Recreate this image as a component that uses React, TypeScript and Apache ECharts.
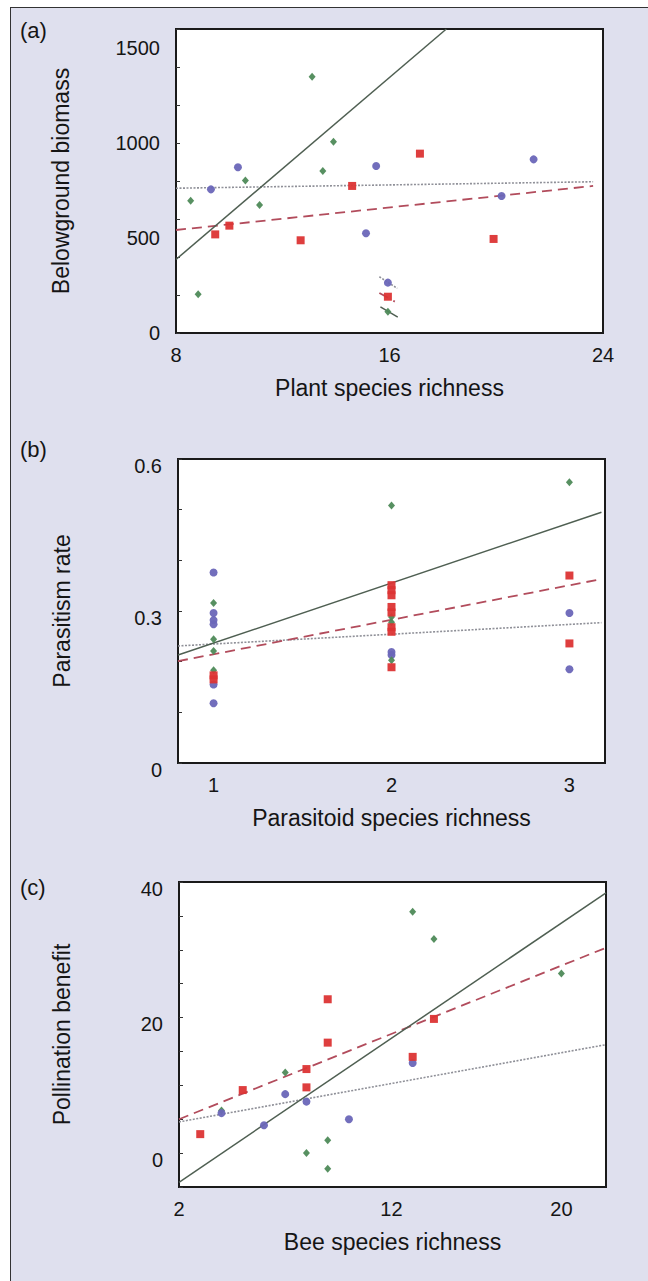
import React, { useEffect, useRef } from "react";
import * as echarts from "echarts";

// ---------- Panel (a): Belowground biomass vs Plant species richness ----------
const aGreen = [[13.1, 1349], [13.9, 1007], [13.5, 853], [10.6, 802], [8.55, 696], [11.13, 674], [8.83, 204]];
const aBlue = [[10.32, 872], [15.5, 879], [9.31, 756], [15.12, 525], [21.4, 914], [20.2, 721]];
const aRed = [[17.14, 944], [14.6, 774], [10.0, 565], [9.47, 519], [12.67, 488], [19.9, 495]];
const aSolid = [[8, 387], [18.13, 1600]];
const aDashed = [[8, 542], [23.63, 774]];
const aDotted = [[8, 762], [23.63, 796]];
const aKeyBlue = [[15.94, 265]];
const aKeyRed = [[15.94, 191]];
const aKeyGreen = [[15.94, 112]];
const aKeyBlueLine = [[15.62, 296], [16.29, 235]];
const aKeyRedLine = [[15.62, 211], [16.2, 165]];
const aKeyGreenLine = [[15.66, 137], [16.31, 84]];
const aXLabels = [8, 16, 24];
const aYLabels = [0, 500, 1000, 1500];

// ---------- Panel (b): Parasitism rate vs Parasitoid species richness ----------
const bGreen = [[1, 0.316], [1, 0.244], [1, 0.221], [1, 0.183], [2, 0.508], [2, 0.288], [2, 0.278], [2, 0.203], [3, 0.554]];
const bBlue = [[1, 0.376], [1, 0.296], [1, 0.282], [1, 0.274], [1, 0.155], [1, 0.118], [2, 0.219], [2, 0.213], [3, 0.296], [3, 0.185]];
const bRed = [[1, 0.173], [1, 0.165], [2, 0.351], [2, 0.341], [2, 0.331], [2, 0.308], [2, 0.297], [2, 0.268], [2, 0.259], [2, 0.189], [3, 0.37], [3, 0.236]];
const bSolid = [[0.8, 0.213], [3.18, 0.495]];
const bDashed = [[0.8, 0.201], [3.18, 0.363]];
const bDotted = [[0.8, 0.231], [3.18, 0.277]];
const bXLabels = [1, 2, 3];
const bYLabels = [0, 0.3, 0.6];

// ---------- Panel (c): Pollination benefit vs Bee species richness ----------
const cGreen = [[13, 35.6], [14, 31.6], [20, 26.5], [7, 11.9], [4, 6.3], [9, 1.9], [8, 0], [9, -2.3]];
const cBlue = [[13, 13.3], [7, 8.7], [8, 7.6], [4, 5.9], [6, 4.1], [10, 5.0]];
const cRed = [[9, 22.7], [9, 16.3], [14, 19.8], [13, 14.2], [8, 12.4], [5, 9.3], [8, 9.7], [3, 2.8]];
const cSolid = [[2, -4.3], [22.1, 38.4]];
const cDashed = [[2, 5.0], [22.1, 30.3]];
const cDotted = [[2, 4.6], [22.1, 16.0]];
const cXLabels = [2, 12, 20];
const cYLabels = [0, 20, 40];

const FONT = '"Liberation Sans", Arial, Helvetica, sans-serif';
const INK = "#151515";
const GREEN = "#4e8a58";
const BLUE = "#6a66b8";
const RED = "#dc3434";
const SOLID = "#4f5f52";
const DASH = "#b24c5c";
const DOT = "#8f9098";

function fmt(shown: number[]) {
  return (v: number) => {
    for (const s of shown) if (Math.abs(v - s) < 1e-6) return String(s);
    return "";
  };
}

function mkGrid(left: number, top: number, width: number, height: number) {
  return {
    left, top, width, height, show: true, backgroundColor: "#ffffff",
    borderColor: "#1a1a1a", borderWidth: 2,
  };
}

function mkX(gridIndex: number, min: number, max: number, interval: number, shown: number[], name: string, nameGap: number) {
  return {
    type: "value", gridIndex, min, max, interval,
    axisLine: { show: false }, axisTick: { show: false }, splitLine: { show: false },
    axisLabel: { color: INK, fontSize: 20, fontFamily: FONT, margin: 12, formatter: fmt(shown), showMinLabel: true, showMaxLabel: true },
    name, nameLocation: "middle", nameGap,
    nameTextStyle: { color: INK, fontSize: 23, fontFamily: FONT },
  };
}

function mkY(gridIndex: number, min: number, max: number, interval: number, shown: number[] | null, ticks: boolean, name: string, nameGap: number, lowered: boolean) {
  const label: any = shown
    ? { color: INK, fontSize: 20, fontFamily: FONT, margin: 16, formatter: fmt(shown), showMinLabel: true, showMaxLabel: true }
    : { show: false };
  if (shown && lowered) {
    label.verticalAlign = "top";
    label.lineHeight = 13;
  }
  return {
    type: "value", gridIndex, min, max, interval, position: "left",
    axisLine: { show: false },
    axisTick: { show: ticks, inside: true, length: 4, lineStyle: { color: "#333", width: 1 } },
    splitLine: { show: false },
    axisLabel: label,
    name, nameLocation: "middle", nameGap,
    nameTextStyle: { color: INK, fontSize: 23, fontFamily: FONT },
  };
}

function line(xi: number, yi: number, data: number[][], kind: "solid" | "dashed" | "dotted") {
  const style =
    kind === "solid" ? { color: SOLID, width: 1.5, type: "solid" } :
    kind === "dashed" ? { color: DASH, width: 1.8, type: [10, 6] } :
    { color: DOT, width: 1.6, type: [2, 1.5] };
  return {
    type: "line", xAxisIndex: xi, yAxisIndex: yi, data, symbol: "none", silent: true,
    lineStyle: style, z: 2,
  };
}

function pts(xi: number, yi: number, data: number[][], kind: "green" | "blue" | "red") {
  const cfg =
    kind === "green" ? { symbol: "diamond", symbolSize: [7, 8], color: GREEN } :
    kind === "blue" ? { symbol: "circle", symbolSize: 8, color: BLUE } :
    { symbol: "rect", symbolSize: 8, color: RED };
  return {
    type: "scatter", xAxisIndex: xi, yAxisIndex: yi, data, symbol: cfg.symbol,
    symbolSize: cfg.symbolSize, itemStyle: { color: cfg.color, opacity: 0.95 }, silent: true, z: 3,
  };
}

export default function App() {
  const ref = useRef<HTMLDivElement>(null);
  useEffect(() => {
    document.body.style.margin = "0";
    if (!ref.current) return;
    const chart = echarts.init(ref.current, null, { renderer: "svg" });
    chart.setOption({
      animation: false,
      textStyle: { fontFamily: FONT },
      grid: [mkGrid(176, 29, 427, 304), mkGrid(178, 459, 427, 304), mkGrid(179, 882, 427, 305)],
      xAxis: [
        mkX(0, 8, 24, 8, aXLabels, "Plant species richness", 43),
        mkX(1, 0.8, 3.2, 0.2, bXLabels, "Parasitoid species richness", 43),
        mkX(2, 2, 22.1, 1, cXLabels, "Bee species richness", 43),
      ],
      yAxis: [
        mkY(0, 0, 1600, 500, aYLabels, false, "Belowground biomass", 104, false),
        mkY(0, 0, 1600, 200, null, true, "", 0, false),
        mkY(1, 0, 0.6, 0.1, bYLabels, true, "Parasitism rate", 105, true),
        mkY(2, -5, 40, 5, cYLabels, true, "Pollination benefit", 106, true),
      ],
      series: [
        line(0, 0, aDotted, "dotted"),
        line(0, 0, aDashed, "dashed"),
        line(0, 0, aSolid, "solid"),
        line(0, 0, aKeyBlueLine, "dotted"),
        line(0, 0, aKeyRedLine, "dashed"),
        line(0, 0, aKeyGreenLine, "solid"),
        pts(0, 0, aGreen, "green"),
        pts(0, 0, aBlue, "blue"),
        pts(0, 0, aRed, "red"),
        pts(0, 0, aKeyBlue, "blue"),
        pts(0, 0, aKeyRed, "red"),
        pts(0, 0, aKeyGreen, "green"),

        line(1, 2, bDotted, "dotted"),
        line(1, 2, bDashed, "dashed"),
        line(1, 2, bSolid, "solid"),
        pts(1, 2, bBlue, "blue"),
        pts(1, 2, bGreen, "green"),
        pts(1, 2, bRed, "red"),

        line(2, 3, cDotted, "dotted"),
        line(2, 3, cDashed, "dashed"),
        line(2, 3, cSolid, "solid"),
        pts(2, 3, cGreen, "green"),
        pts(2, 3, cBlue, "blue"),
        pts(2, 3, cRed, "red"),
      ],
      graphic: [
        { type: "text", left: 20, top: 19, style: { text: "(a)", fontSize: 22, fontFamily: FONT, fill: INK } },
        { type: "text", left: 20, top: 438, style: { text: "(b)", fontSize: 22, fontFamily: FONT, fill: INK } },
        { type: "text", left: 20, top: 876, style: { text: "(c)", fontSize: 22, fontFamily: FONT, fill: INK } },
      ],
    });
    return () => chart.dispose();
  }, []);

  return (
    <div style={{ position: "relative", width: 648, height: 1281, background: "#ffffff" }}>
      <div
        style={{
          position: "absolute", left: 10, top: 7, width: 640, height: 1276,
          background: "#dfe0ee", borderLeft: "1.5px solid #333", borderTop: "1.5px solid #333",
          boxSizing: "border-box",
        }}
      />
      <div ref={ref} style={{ position: "absolute", left: 0, top: 0, width: 648, height: 1281 }} />
    </div>
  );
}
